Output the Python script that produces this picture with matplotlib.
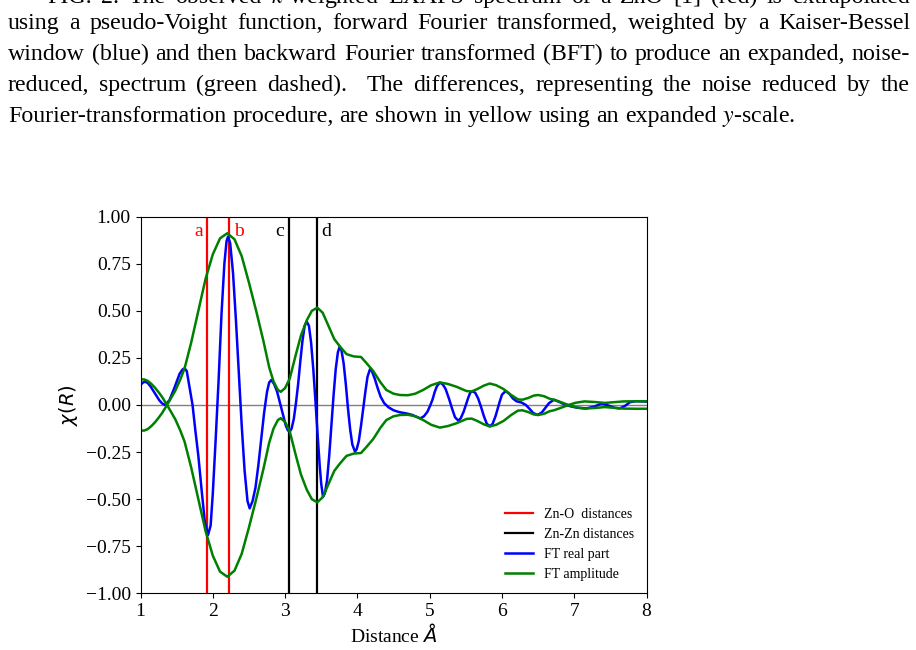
import matplotlib
matplotlib.use("Agg")
import matplotlib.pyplot as plt

plt.rcParams['font.family'] = ['Liberation Serif', 'DejaVu Serif']

# FT real part, chi(R)
r_real = [1.00, 1.03, 1.06, 1.10, 1.14, 1.20, 1.26, 1.30, 1.34, 1.40, 1.47, 1.54, 1.58, 1.61,
          1.64, 1.68, 1.72, 1.76, 1.80, 1.85, 1.89, 1.934, 1.97, 2.00, 2.04, 2.08, 2.12, 2.16,
          2.19, 2.21, 2.24, 2.28, 2.32, 2.36, 2.40, 2.44, 2.48, 2.51, 2.55, 2.59, 2.63, 2.67,
          2.71, 2.75, 2.78, 2.81, 2.85, 2.89, 2.93, 2.97, 3.01, 3.04, 3.064, 3.09, 3.12, 3.15,
          3.18, 3.21, 3.24, 3.27, 3.30, 3.33, 3.36, 3.39, 3.42, 3.45, 3.48, 3.50, 3.524, 3.55,
          3.58, 3.61, 3.64, 3.67, 3.70, 3.73, 3.755, 3.78, 3.81, 3.84, 3.87, 3.90, 3.93, 3.967,
          3.99, 4.02, 4.05, 4.08, 4.11, 4.14, 4.174, 4.20, 4.24, 4.28, 4.32, 4.37, 4.43, 4.50,
          4.58, 4.68, 4.76, 4.82, 4.87, 4.92, 4.97, 5.01, 5.04, 5.07, 5.10, 5.14, 5.18, 5.22,
          5.27, 5.31, 5.35, 5.395, 5.43, 5.47, 5.50, 5.53, 5.56, 5.59, 5.63, 5.67, 5.71, 5.75,
          5.79, 5.834, 5.87, 5.91, 5.94, 5.97, 6.00, 6.05, 6.10, 6.15, 6.20, 6.27, 6.33, 6.38,
          6.43, 6.49, 6.55, 6.60, 6.65, 6.72, 6.80, 6.88, 6.96, 7.05, 7.17, 7.28, 7.38, 7.48,
          7.56, 7.63, 7.70, 7.77, 7.85, 7.92, 8.00]
chi_real = [0.106, 0.118, 0.124, 0.117, 0.098, 0.062, 0.025, 0.008, 0.000, 0.025, 0.092, 0.165, 0.188, 0.195,
            0.18, 0.09, 0.0, -0.14, -0.27, -0.47, -0.62, -0.69, -0.64, -0.47, -0.18, 0.13, 0.48, 0.75,
            0.87, 0.894, 0.86, 0.70, 0.45, 0.17, -0.11, -0.35, -0.51, -0.549, -0.51, -0.44, -0.32, -0.18,
            -0.04, 0.07, 0.12, 0.133, 0.11, 0.07, 0.01, -0.05, -0.11, -0.135, -0.142, -0.125, -0.075, 0.01,
            0.11, 0.23, 0.34, 0.42, 0.443, 0.42, 0.33, 0.19, 0.02, -0.16, -0.33, -0.42, -0.487, -0.47,
            -0.40, -0.27, -0.11, 0.05, 0.19, 0.28, 0.31, 0.29, 0.22, 0.11, -0.02, -0.13, -0.21, -0.248,
            -0.235, -0.19, -0.11, -0.02, 0.07, 0.15, 0.19, 0.18, 0.14, 0.09, 0.045, 0.01, -0.012, -0.028,
            -0.038, -0.045, -0.053, -0.063, -0.071, -0.06, -0.035, 0.0, 0.03, 0.07, 0.10, 0.119, 0.11, 0.085,
            0.03, -0.02, -0.065, -0.083, -0.07, -0.035, 0.0, 0.035, 0.065, 0.073, 0.065, 0.035, -0.01, -0.06,
            -0.10, -0.113, -0.10, -0.06, -0.02, 0.02, 0.055, 0.074, 0.06, 0.035, 0.02, 0.013, 0.0, -0.02,
            -0.042, -0.053, -0.04, -0.015, 0.01, 0.028, 0.015, 0.0, -0.008, -0.015, -0.018, -0.008, 0.008, -0.004,
            -0.015, -0.018, -0.005, 0.015, 0.02, 0.019, 0.018]

# FT amplitude (signed, drawn as +/-)
r_amp = [1.00, 1.05, 1.10, 1.15, 1.20, 1.25, 1.30, 1.367, 1.42, 1.48, 1.55, 1.61, 1.70, 1.80,
         1.90, 2.00, 2.10, 2.20, 2.30, 2.40, 2.50, 2.60, 2.70, 2.78, 2.84, 2.90, 2.94, 3.00,
         3.064, 3.15, 3.22, 3.30, 3.37, 3.445, 3.52, 3.60, 3.68, 3.76, 3.85, 3.95, 4.05, 4.12,
         4.22, 4.32, 4.40, 4.50, 4.59, 4.70, 4.80, 4.91, 5.02, 5.14, 5.25, 5.37, 5.51, 5.58,
         5.66, 5.75, 5.83, 5.92, 6.02, 6.12, 6.22, 6.28, 6.36, 6.44, 6.50, 6.58, 6.66, 6.72,
         6.80, 6.92, 7.02, 7.14, 7.28, 7.42, 7.55, 7.68, 7.85, 8.00]
amp = [-0.135, -0.136, -0.128, -0.112, -0.092, -0.068, -0.042, 0.0, 0.035, 0.075, 0.135, 0.195, 0.33, 0.50,
       0.67, 0.80, 0.885, 0.912, 0.88, 0.79, 0.65, 0.50, 0.34, 0.20, 0.125, 0.08, 0.07, 0.09,
       0.14, 0.27, 0.37, 0.45, 0.50, 0.517, 0.49, 0.42, 0.35, 0.31, 0.27, 0.258, 0.255, 0.225,
       0.18, 0.12, 0.08, 0.06, 0.053, 0.052, 0.06, 0.08, 0.105, 0.12, 0.112, 0.097, 0.074, 0.072,
       0.085, 0.103, 0.114, 0.105, 0.085, 0.055, 0.03, 0.028, 0.037, 0.05, 0.053, 0.047, 0.033, 0.028,
       0.017, 0.0, -0.012, -0.019, -0.016, -0.011, -0.015, -0.019, -0.02, -0.02]

# bond distances
zno_dist = [1.924, 2.228]
znzn_dist = [3.05, 3.445]
dist_tags = ['a', 'b', 'c', 'd']

caption = [
    r"FIG. 2. The observed $k$-weighted EXAFS spectrum of a ZnO [1] (red) is extrapolated",
    "using a pseudo-Voight function, forward Fourier transformed, weighted by a Kaiser-Bessel",
    "window (blue) and then backward Fourier transformed (BFT) to produce an expanded, noise-",
    "reduced, spectrum (green dashed).  The differences, representing the noise reduced by the",
    r"Fourier-transformation procedure, are shown in yellow using an expanded $y$-scale.",
]

W, H = 916, 650
fig = plt.figure(figsize=(W / 100, H / 100), dpi=100)
ax = fig.add_axes([140.5 / W, 1 - 593.3 / H, 506.1 / W, 376.6 / H])

ax.axhline(0, color='gray', lw=1)
for i, d in enumerate(zno_dist):
    ax.axvline(d, color='red', lw=1.6, label='Zn-O  distances' if i == 0 else None)
for i, d in enumerate(znzn_dist):
    ax.axvline(d, color='black', lw=1.6, label='Zn-Zn distances' if i == 0 else None)

ax.plot(r_real, chi_real, color='blue', lw=1.8, label='FT real part')
ax.plot(r_amp, amp, color='green', lw=1.8, label='FT amplitude')
ax.plot(r_amp, [-v for v in amp], color='green', lw=1.8)

# letters beside the distance lines
for d, tag, col, side in zip(zno_dist + znzn_dist, dist_tags,
                              ['red', 'red', 'black', 'black'], [-1, 1, -1, 1]):
    ax.text(d + side * 0.06, 0.92, tag, color=col, fontsize=14,
            ha='right' if side < 0 else 'left', va='center')

ax.set_xlim(1, 8)
ax.set_ylim(-1, 1)
ax.set_xticks(range(1, 9))
ax.set_yticks([-1, -0.75, -0.5, -0.25, 0, 0.25, 0.5, 0.75, 1])
ax.yaxis.set_major_formatter(
    matplotlib.ticker.FuncFormatter(lambda v, p: f'{v:.2f}'.replace('-', '\u2212')))
ax.tick_params(labelsize=14)
ax.set_xlabel(r'Distance $\AA$', fontsize=14, labelpad=2)
ax.set_ylabel(r'$\chi(R)$', fontsize=14)
ax.legend(loc='lower right', fontsize=10, frameon=False, borderaxespad=0.5)

# caption above the chart, justified like the source page
r = fig.canvas.get_renderer()
fs = 17.2
rows = [(47, 3, True), (8, 29, True), (8, 60, True), (8, 91, True), (8, 122, False)]
for line, (x0, yb, justify) in zip(caption, rows):
    words = line.split(' ')
    texts = [fig.text(0, 1 - yb / H, w, fontsize=fs, va='baseline', math_fontfamily='stix')
             for w in words]
    widths = [t.get_window_extent(r).width if w else 0 for t, w in zip(texts, words)]
    gap = (910 - x0 - sum(widths)) / (len(words) - 1) if justify else fs * 1.389 * 0.25
    x = x0
    for t, w in zip(texts, widths):
        t.set_x(x / W)
        x += w + gap

fig.savefig('out.png', dpi=100)
